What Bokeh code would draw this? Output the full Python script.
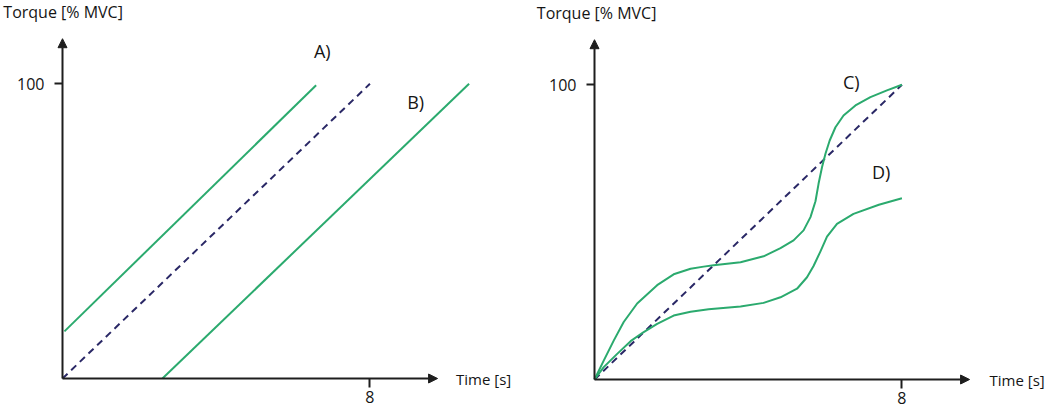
from bokeh.plotting import figure
from bokeh.layouts import row
from bokeh.models import Range1d, LinearAxis, FixedTicker, Arrow, NormalHead, Label
from bokeh.embed import file_html
from bokeh.resources import INLINE

# ---------------- data ----------------
# Left panel: target ramp and two shifted ramps (A, B)
ramp_x = [0, 8]
ramp_y = [0, 100]
a_x = [0.05, 6.6]
a_y = [16, 99.5]
b_x = [2.6, 10.58]
b_y = [0, 100]

# Right panel: curves C and D
c_x = [0, 0.24, 0.50, 0.76, 1.11, 1.63, 2.06, 2.50, 2.84, 3.10, 3.80, 4.40, 4.84,
       5.18, 5.44, 5.62, 5.75, 5.83, 5.92, 6.01, 6.12, 6.27, 6.48, 6.79, 7.18, 7.61, 8.0]
c_y = [0, 6.4, 13.2, 19.5, 25.8, 32.0, 35.7, 37.6, 38.3, 38.8, 39.8, 41.8, 44.6,
       47.2, 50.6, 55.1, 60.5, 66.4, 72.0, 76.6, 81.1, 85.6, 89.6, 93.0, 95.8, 98.1, 100]
d_x = [0, 0.24, 0.59, 0.94, 1.28, 1.63, 2.06, 2.50, 2.97, 3.80, 4.40, 4.84, 5.27,
       5.53, 5.70, 5.88, 6.05, 6.31, 6.74, 7.40, 8.0]
d_y = [0, 4.2, 8.7, 13.0, 16.1, 18.9, 21.7, 23.0, 23.8, 24.8, 26.0, 27.9, 30.8,
       34.7, 38.5, 43.5, 48.5, 52.8, 56.2, 59.3, 61.5]

y_ticks = [100]
x_ticks = [8]
y_title = "Torque [% MVC]"
x_title = "Time [s]"
left_labels = ["A)", "B)"]
right_labels = ["C)", "D)"]

GREEN = "#2BAA6E"
NAVY = "#2A2866"
AXIS = "#1E1E1E"
TEXT = "#151515"
FONT = "Open Sans"

PXX = 38.43   # px per second
PXY = 2.947   # px per % MVC
H = 416


def make_panel(width, origin_x, origin_y):
    # origin_x / origin_y: position of (0,0) inside the canvas in px
    x0 = -origin_x / PXX
    x1 = (width - origin_x) / PXX
    y0 = -(H - origin_y) / PXY
    y1 = origin_y / PXY
    p = figure(width=width, height=H, output_backend="svg", toolbar_location=None,
               x_range=Range1d(x0, x1), y_range=Range1d(y0, y1),
               x_axis_location=None, y_axis_location=None,
               min_border=0, outline_line_color=None)
    p.grid.visible = False
    yax = LinearAxis(fixed_location=0, ticker=FixedTicker(ticks=y_ticks))
    xax = LinearAxis(fixed_location=0, ticker=FixedTicker(ticks=x_ticks))
    for ax in (xax, yax):
        ax.axis_line_color = None
        ax.major_tick_line_color = AXIS
        ax.major_tick_line_width = 2
        ax.minor_tick_line_color = None
        ax.major_tick_in = 0
        ax.major_label_text_font = FONT
        ax.major_label_text_font_size = "16px"
        ax.major_label_text_color = TEXT
    yax.major_tick_out = 8
    yax.major_label_standoff = 10
    xax.major_tick_out = 9
    xax.major_label_standoff = 3
    p.add_layout(yax, "left")
    p.add_layout(xax, "below")
    head = dict(size=9, fill_color=AXIS, line_color=AXIS)
    p.add_layout(Arrow(end=NormalHead(**head), x_start=0, y_start=0, x_end=0, y_end=115.3,
                       line_color=AXIS, line_width=2))
    p.add_layout(Arrow(end=NormalHead(**head), x_start=0, y_start=0, x_end=9.76, y_end=0,
                       line_color=AXIS, line_width=2))
    return p


def add_text(p, txt, x, y, size, align="left"):
    p.add_layout(Label(x=x, y=y, text=txt, text_font=FONT, text_font_size=size,
                       text_color=TEXT, text_align=align, text_baseline="middle"))


# Left panel: canvas page x 0..530, origin at (62, 378)
left = make_panel(530, 62, 378)
left.line(ramp_x, ramp_y, line_color=NAVY, line_width=2, line_dash="7 5")
left.line(a_x, a_y, line_color=GREEN, line_width=2)
left.line(b_x, b_y, line_color=GREEN, line_width=2)
add_text(left, y_title, -1.54, 124.2, "16px")
add_text(left, x_title, 10.24, 0, "15px")
add_text(left, left_labels[0], 6.76, 111.1, "18px", "center")
add_text(left, left_labels[1], 9.19, 93.8, "18px", "center")

# Right panel: canvas page x 530..1049, origin at page (594, 379)
right = make_panel(519, 64, 379)
right.line(ramp_x, ramp_y, line_color=NAVY, line_width=2, line_dash="7 5")
right.line(c_x, c_y, line_color=GREEN, line_width=2, line_join="round")
right.line(d_x, d_y, line_color=GREEN, line_width=2, line_join="round")
add_text(right, y_title, -1.5, 124.5, "16px")
add_text(right, x_title, 10.28, 0, "15px")
add_text(right, right_labels[0], 6.68, 100.9, "18px", "center")
add_text(right, right_labels[1], 7.46, 70.3, "18px", "center")

layout = row(left, right)
open("out.html", "w").write(file_html(layout, INLINE))
